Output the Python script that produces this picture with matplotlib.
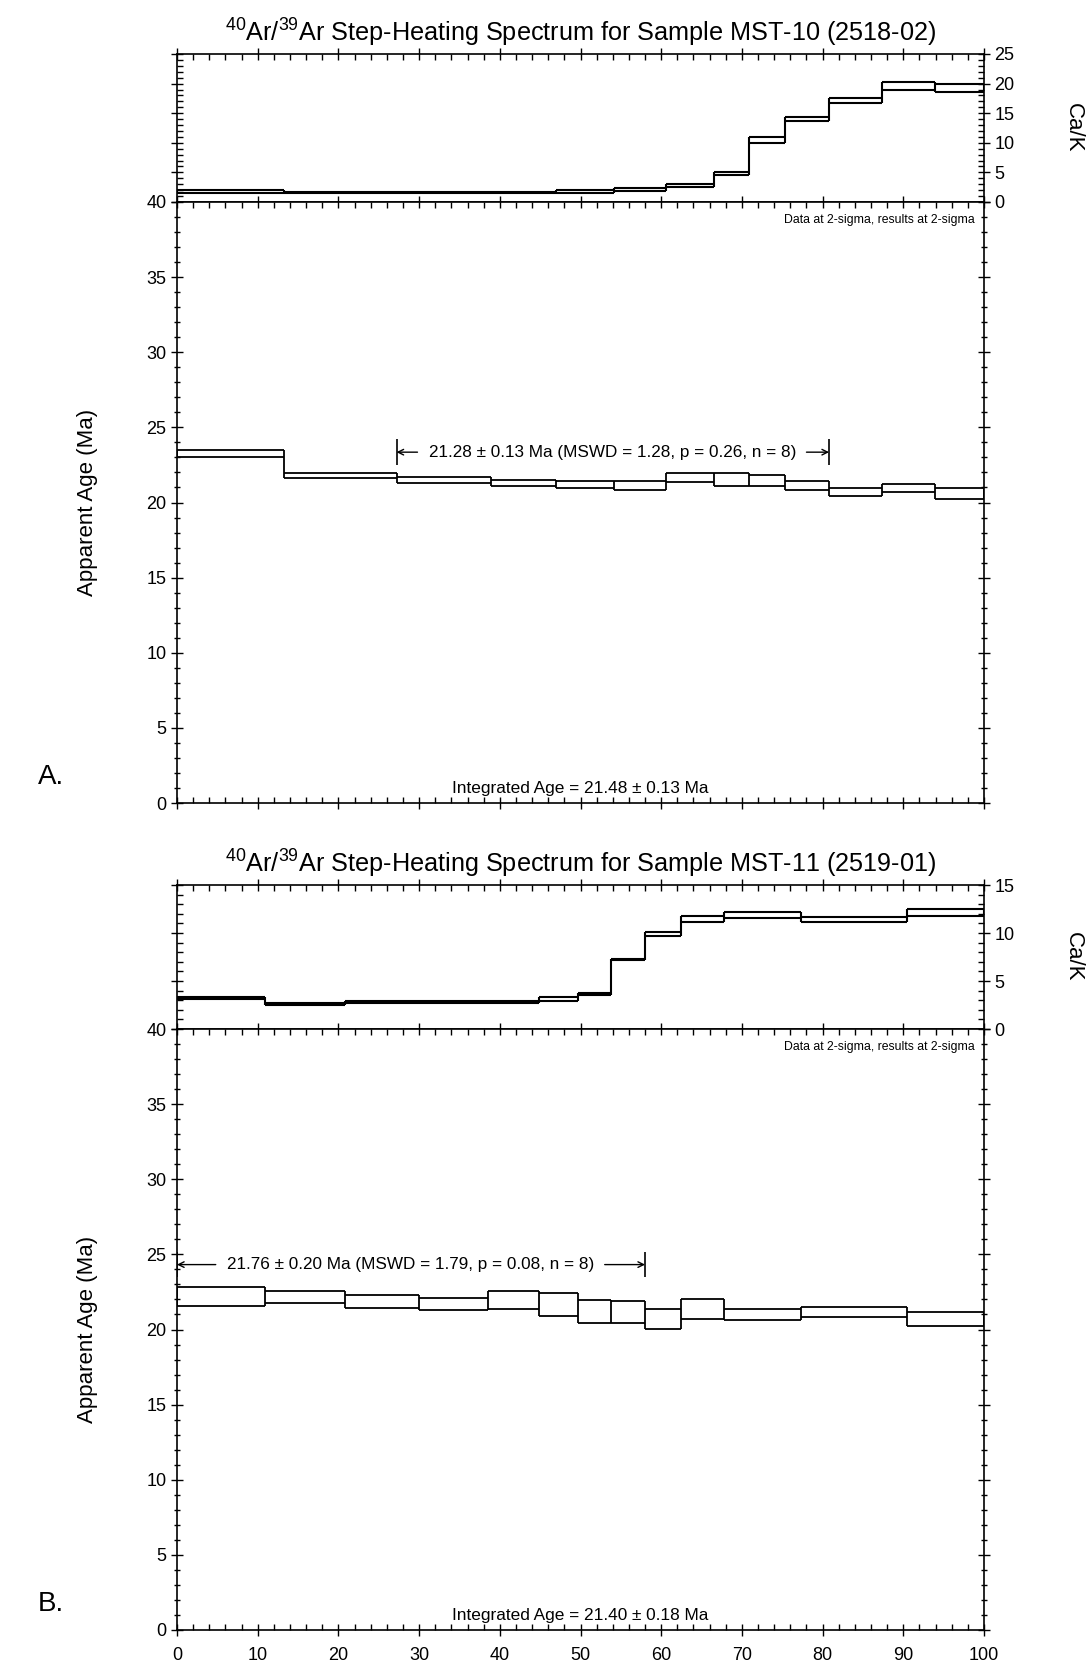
import numpy as np
import matplotlib
matplotlib.use("Agg")
import matplotlib.pyplot as plt
from matplotlib.ticker import MultipleLocator

plt.rcParams['font.family'] = ['Liberation Sans', 'DejaVu Sans']
plt.rcParams['mathtext.fontset'] = 'custom'
plt.rcParams['mathtext.rm'] = 'Liberation Sans'

# ---------------- data ----------------
bounds_A = [0, 13.2, 27.2, 38.9, 47.0, 54.1, 60.6, 66.6, 70.9, 75.4, 80.8, 87.4, 93.9, 100]
caA_lo = [1.6, 1.45, 1.45, 1.45, 1.55, 1.9, 2.6, 4.6, 10.0, 13.7, 16.8, 19.0, 18.6]
caA_hi = [2.0, 1.75, 1.75, 1.75, 2.05, 2.4, 3.1, 5.0, 11.0, 14.3, 17.6, 20.2, 19.9]
ageA_lo = [23.0, 21.66, 21.31, 21.08, 20.98, 20.8, 21.35, 21.08, 21.1, 20.8, 20.4, 20.67, 20.22]
ageA_hi = [23.5, 21.97, 21.68, 21.53, 21.46, 21.46, 21.97, 21.97, 21.86, 21.46, 20.98, 21.26, 20.98]

bounds_B = [0, 10.9, 20.8, 30.0, 38.5, 44.8, 49.7, 53.8, 58.0, 62.4, 67.8, 77.3, 90.4, 100]
caB_lo = [3.1, 2.52, 2.7, 2.7, 2.7, 2.87, 3.58, 7.15, 9.71, 11.18, 11.53, 11.15, 11.8]
caB_hi = [3.3, 2.73, 2.87, 2.87, 2.87, 3.3, 3.75, 7.29, 10.1, 11.78, 12.2, 11.7, 12.5]
ageB_lo = [21.56, 21.79, 21.46, 21.28, 21.37, 20.9, 20.46, 20.46, 20.06, 20.72, 20.66, 20.83, 20.23]
ageB_hi = [22.83, 22.56, 22.28, 22.1, 22.54, 22.45, 21.99, 21.88, 21.39, 22.0, 21.39, 21.5, 21.17]

titles = [r"$\mathregular{^{40}}$Ar/$\mathregular{^{39}}$Ar Step-Heating Spectrum for Sample MST-10 (2518-02)",
          r"$\mathregular{^{40}}$Ar/$\mathregular{^{39}}$Ar Step-Heating Spectrum for Sample MST-11 (2519-01)"]
plateau_text = ["21.28 ± 0.13 Ma (MSWD = 1.28, p = 0.26, n = 8)",
                "21.76 ± 0.20 Ma (MSWD = 1.79, p = 0.08, n = 8)"]
plateau_x = [(27.2, 80.8), (0.0, 58.0)]
plateau_y = [23.35, 24.32]
integrated_text = ["Integrated Age = 21.48 ± 0.13 Ma", "Integrated Age = 21.40 ± 0.18 Ma"]
panel_labels = ["A.", "B."]
ca_max = [25, 15]

# ---------------- figure ----------------
W, H = 1088, 1662
fig = plt.figure(figsize=(W / 100, H / 100), dpi=100)

def fr(x0, y0, x1, y1):
    return [x0 / W, 1 - y1 / H, (x1 - x0) / W, (y1 - y0) / H]

L, R = 177, 984
ca_boxes = [(54, 202), (885, 1029)]
age_boxes = [(202, 803), (1029, 1630)]


def draw_spectrum(ax, b, lo, hi, lw=1.3, color='black'):
    b = np.asarray(b, float)
    lo = np.asarray(lo, float)
    hi = np.asarray(hi, float)
    ax.hlines(hi, b[:-1], b[1:], colors=color, lw=lw)
    ax.hlines(lo, b[:-1], b[1:], colors=color, lw=lw)
    vmin = np.concatenate([[lo[0]], np.minimum(lo[:-1], lo[1:]), [lo[-1]]])
    vmax = np.concatenate([[hi[0]], np.maximum(hi[:-1], hi[1:]), [hi[-1]]])
    ax.vlines(b, vmin, vmax, colors=color, lw=lw)


def style_x(ax):
    ax.set_xlim(0, 100)
    ax.xaxis.set_major_locator(MultipleLocator(10))
    ax.xaxis.set_minor_locator(MultipleLocator(2))


data = [
    (bounds_A, caA_lo, caA_hi, ageA_lo, ageA_hi),
    (bounds_B, caB_lo, caB_hi, ageB_lo, ageB_hi),
]

for i in range(2):
    b, clo, chi, alo, ahi = data[i]
    # Ca/K panel
    axc = fig.add_axes(fr(L, ca_boxes[i][0], R, ca_boxes[i][1]))
    draw_spectrum(axc, b, clo, chi, lw=1.5)
    style_x(axc)
    axc.set_ylim(0, ca_max[i])
    axc.yaxis.set_major_locator(MultipleLocator(5))
    axc.yaxis.set_minor_locator(MultipleLocator(1))
    axc.yaxis.tick_right()
    axc.tick_params(axis='x', which='both', top=True, bottom=False,
                    labeltop=False, labelbottom=False)
    axc.tick_params(axis='x', which='major', direction='inout', length=8, width=1)
    axc.tick_params(axis='x', which='minor', direction='in', length=4, width=1)
    axc.tick_params(axis='y', which='both', left=True, right=True,
                    labelleft=False, labelright=True, labelsize=13)
    axc.tick_params(axis='y', which='major', direction='inout', length=8, width=1)
    axc.tick_params(axis='y', which='minor', direction='in', length=4, width=1)
    for s in axc.spines.values():
        s.set_linewidth(1.2)
    axc.set_title(titles[i], fontsize=18.2, pad=9)

    # Age panel
    axa = fig.add_axes(fr(L, age_boxes[i][0], R, age_boxes[i][1]))
    draw_spectrum(axa, b, alo, ahi, lw=1.3)
    style_x(axa)
    axa.set_ylim(0, 40)
    axa.yaxis.set_major_locator(MultipleLocator(5))
    axa.yaxis.set_minor_locator(MultipleLocator(1))
    axa.tick_params(axis='x', which='both', top=True, bottom=True,
                    labeltop=False, labelbottom=(i == 1), labelsize=13, pad=8)
    axa.tick_params(axis='x', which='major', direction='inout', length=8, width=1)
    axa.tick_params(axis='x', which='minor', direction='in', length=4, width=1)
    axa.tick_params(axis='y', which='both', left=True, right=True,
                    labelleft=True, labelright=False, labelsize=13)
    axa.tick_params(axis='y', which='major', direction='inout', length=8, width=1)
    axa.tick_params(axis='y', which='minor', direction='inout', length=4, width=1)
    for s in axa.spines.values():
        s.set_linewidth(1.2)

    # plateau
    x0, x1 = plateau_x[i]
    y = plateau_y[i]
    axa.vlines([x0, x1], y - 0.85, y + 0.85, colors='black', lw=1.2)
    axa.annotate("", xy=(x0, y), xytext=(x0 + (2.6 if i == 0 else 4.8), y),
                 arrowprops=dict(arrowstyle='->', lw=1.0, color='black',
                                 shrinkA=0, shrinkB=0, mutation_scale=10))
    axa.annotate("", xy=(x1, y), xytext=(x1 - (2.8 if i == 0 else 5.0), y),
                 arrowprops=dict(arrowstyle='->', lw=1.0, color='black',
                                 shrinkA=0, shrinkB=0, mutation_scale=10))
    axa.text((x0 + x1) / 2, y, plateau_text[i], ha='center', va='center', fontsize=12.3)

    axa.text(98.8, 38.8, "Data at 2-sigma, results at 2-sigma", ha='right', va='center',
             fontsize=8.8)
    axa.text(50, 0.95, integrated_text[i], ha='center', va='center', fontsize=12.4)

    # labels
    yc = 1 - (age_boxes[i][0] + age_boxes[i][1]) / 2 / H
    fig.text(87 / W, yc, "Apparent Age (Ma)", rotation=90, ha='center', va='center',
             fontsize=16)
    yk = 1 - (ca_boxes[i][0] + ca_boxes[i][1]) / 2 / H
    fig.text(1073 / W, yk, "Ca/K", rotation=270, ha='center', va='center', fontsize=16)
    ypl = [777, 1604][i]
    fig.text(51 / W, 1 - ypl / H, panel_labels[i], ha='center', va='center', fontsize=20)

fig.savefig("out.png", dpi=100)
